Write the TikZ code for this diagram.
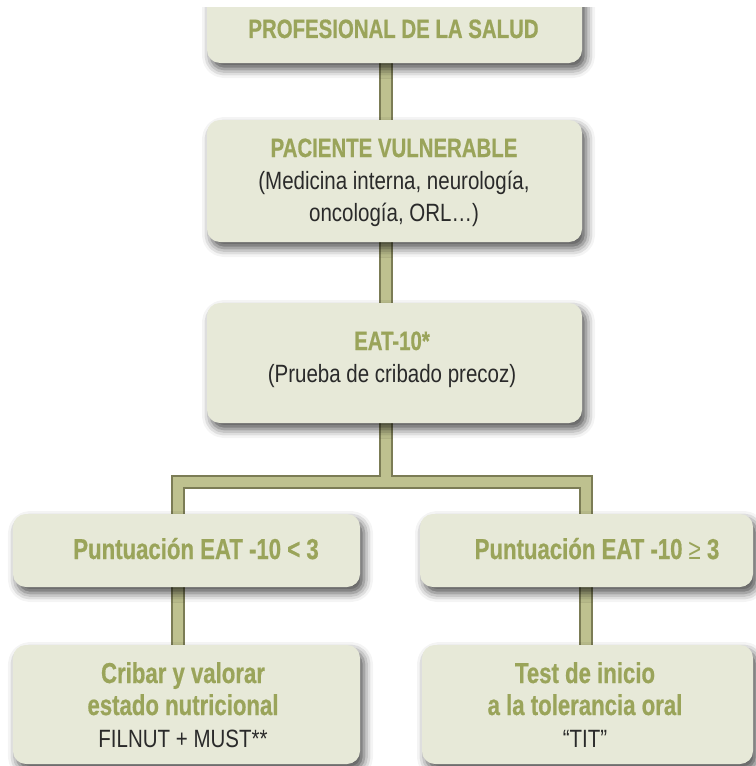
\documentclass[tikz,border=0pt]{standalone}
\usepackage{fontspec}
\setmainfont{Liberation Sans}[FakeStretch=0.82]
\newfontfamily\hdfont{Liberation Sans}[FakeStretch=0.77, BoldFeatures={FakeBold=0.6}]
\usetikzlibrary{shadows.blur}

\definecolor{boxfill}{HTML}{E7E9D8}
\definecolor{titlegreen}{HTML}{9AA45A}
\definecolor{bodytext}{HTML}{2A2A2A}
\definecolor{barlight}{HTML}{BEC18F}
\definecolor{bardark}{HTML}{7B7C55}

\tikzset{
  stepbox/.style={rectangle, rounded corners=13bp, fill=boxfill, draw=none,
    inner sep=0pt,
    blur shadow={shadow xshift=4bp, shadow yshift=-6bp,
      shadow blur radius=9bp, shadow opacity=70}},
  slot/.style={rectangle, inner sep=0pt},
  % anchored on the baseline of the last line
  boxtext/.style={align=center, anchor=base, inner sep=0pt, text=bodytext,
    font=\fontsize{25bp}{32bp}\selectfont},
  barout/.style={draw=bardark, line width=14bp, line join=miter},
  barin/.style={draw=barlight, line width=10bp, line join=miter},
}

\newcommand{\ttl}[1]{{\fontsize{26.5bp}{32bp}\hdfont\bfseries\color{titlegreen}#1}}
\newcommand{\bigttl}[1]{{\fontsize{28.8bp}{32bp}\hdfont\bfseries\color{titlegreen}#1}}

\begin{document}
\begin{tikzpicture}[x=1bp, y=-1bp]
\useasboundingbox (0,0) rectangle (756,766);
\clip (0,8) rectangle (756,766);

% box places, and the columns and row used by the bars
\path
  node[slot, minimum width=375bp, minimum height=83bp]  (b1) at (394.5,21.5) {}
  node[slot, minimum width=375bp, minimum height=122bp] (b2) at (394.5,181) {}
  node[slot, minimum width=375bp, minimum height=120bp] (b3) at (394.5,363) {}
  node[slot, minimum width=347bp, minimum height=73bp]  (b4) at (186.5,550.5) {}
  node[slot, minimum width=333bp, minimum height=73bp]  (b5) at (586.5,550.5) {}
  node[slot, minimum width=347bp, minimum height=119bp] (b6) at (186.5,704.5) {}
  node[slot, minimum width=331bp, minimum height=119bp] (b7) at (587.5,704.5) {}
  coordinate (tx) at (386,0)
  coordinate (lx) at (177.5,0)
  coordinate (rx) at (586,0)
  coordinate (hy) at (0,482);

% connecting bars, outer edge then inner fill
\foreach \st in {barout, barin}{
  \draw[\st] (b1.south -| tx) -- (b2.north -| tx);
  \draw[\st] (b2.south -| tx) -- (b3.north -| tx);
  \draw[\st] (b3.south -| tx) -- (tx |- hy);
  \draw[\st] (b4.north -| lx) -- (lx |- hy) -- (rx |- hy) -- (b5.north -| rx);
  \draw[\st] (b4.south -| lx) -- (b6.north -| lx);
  \draw[\st] (b5.south -| rx) -- (b7.north -| rx);
}

% boxes drawn over the bars
\node[stepbox, minimum width=375bp, minimum height=83bp]  (p1) at (b1) {};
\node[stepbox, minimum width=375bp, minimum height=122bp] (p2) at (b2) {};
\node[stepbox, minimum width=375bp, minimum height=120bp] (p3) at (b3) {};
\node[stepbox, minimum width=347bp, minimum height=73bp]  (p4) at (b4) {};
\node[stepbox, minimum width=333bp, minimum height=73bp]  (p5) at (b5) {};
\node[stepbox, minimum width=347bp, minimum height=119bp] (p6) at (b6) {};
\node[stepbox, minimum width=331bp, minimum height=119bp] (p7) at (b7) {};

% texts
\node[boxtext] (t1) at (393.5,38)
  {\ttl{PROFESIONAL DE LA SALUD}};
\node[boxtext] (t2) at (394,221)
  {\ttl{PACIENTE VULNERABLE}\\(Medicina interna, neurología,\\oncología, ORL…)};
\node[boxtext] (t3) at (392,382)
  {\ttl{EAT-10*}\\(Prueba de cribado precoz)};
\node[boxtext] (t4) at (196,559)
  {\bigttl{Puntuación EAT -10 < 3}};
\node[boxtext] (t5) at (597,559)
  {\bigttl{Puntuación EAT -10 {\mdseries ≥} 3}};
\node[boxtext] (t6) at (183,747)
  {\bigttl{Cribar y valorar}\\\bigttl{estado nutricional}\\FILNUT + MUST**};
\node[boxtext] (t7) at (585,747)
  {\bigttl{Test de inicio}\\\bigttl{a la tolerancia oral}\\“TIT”};
\end{tikzpicture}
\end{document}
